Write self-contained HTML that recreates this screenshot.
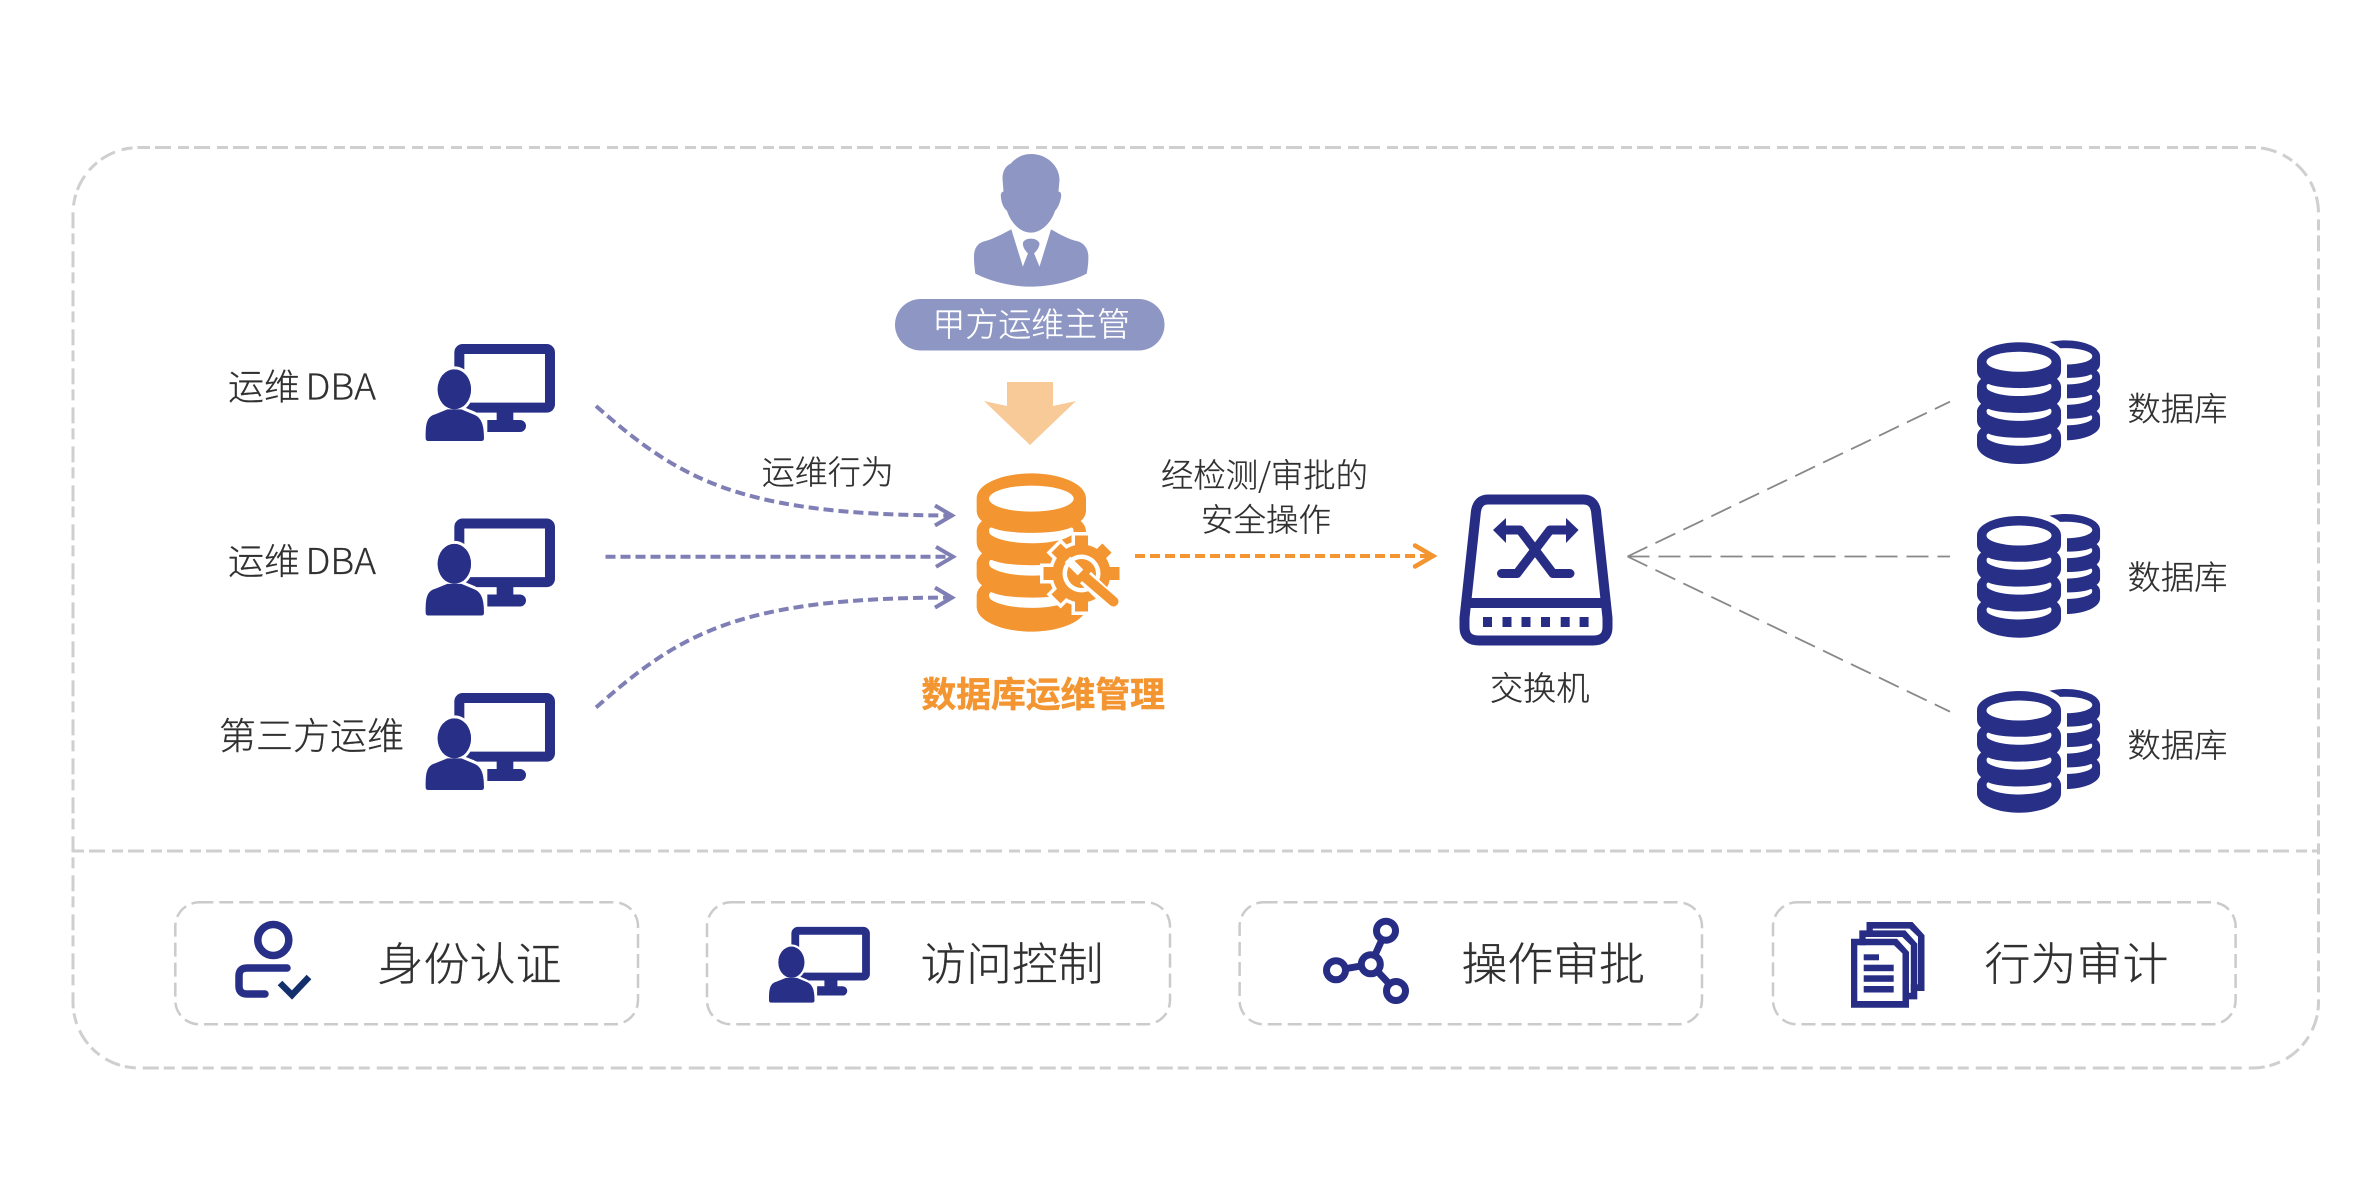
<!DOCTYPE html>
<html><head><meta charset="utf-8"><style>
html,body{margin:0;padding:0;background:#fff}
svg{display:block}
text{font-family:"Noto Sans CJK SC","Liberation Sans",sans-serif;fill:#303030;font-weight:300;stroke:#303030;stroke-width:.3}
</style></head><body>
<svg width="2375" height="1194" viewBox="0 0 2375 1194" xmlns="http://www.w3.org/2000/svg">
<defs>
<g id="mon">
<path fill-rule="evenodd" fill="#272f87" d="M158,42H410a25,25 0 0 1 25,25V223a25,25 0 0 1 -25,25H158a25,25 0 0 1 -25,-25V67a25,25 0 0 1 25,-25ZM163,72V218H405V72Z"/>
<rect x="260" y="245" width="50" height="30" fill="#272f87"/>
<path fill="#272f87" d="M232,270H330a18,18 0 0 1 0,36H232Z"/>
<ellipse cx="133" cy="178" rx="50" ry="60" fill="#272f87" stroke="#fff" stroke-width="18" paint-order="stroke"/>
<path id="mb" fill="#272f87" stroke="#fff" stroke-width="18" paint-order="stroke" d="M47,325C47,290 47,260 75,253L112,238H154L190,253C215,262 222,285 222,325Q222,333 214,333H55Q47,333 47,325Z"/>
<ellipse cx="133" cy="178" rx="50" ry="60" fill="#272f87"/>
</g>
<path id="dbbody" d="M50,115C50,70 130,40 214,40C298,40 378,70 378,115L378,150C378,165 372,175 362,183C372,192 378,202 378,215L378,245C378,260 372,270 362,280C372,290 378,300 378,310L378,345C378,358 372,368 362,376C372,385 378,395 378,408L378,440C378,485 298,515 214,515C130,515 50,485 50,440L50,408C50,395 56,385 66,376C56,368 50,358 50,345L50,310C50,300 56,290 66,280C56,270 50,260 50,245L50,215C50,202 56,192 66,183C56,175 50,165 50,150Z"/>
<g id="dbholes" fill="#fff">
<ellipse cx="214" cy="116" rx="127" ry="39"/>
<path id="cr" d="M96,203C140,224 290,224 332,203C342,199 344,218 335,225C290,258 140,258 93,225C84,218 86,200 96,203Z"/>
<path d="M96,300C140,321 290,321 332,300C342,296 344,315 335,322C290,355 140,355 93,322C84,315 86,297 96,300Z"/>
<path d="M96,397C140,418 290,418 332,397C342,393 344,412 335,419C290,452 140,452 93,419C84,412 86,394 96,397Z"/>
</g>
<g id="navydb">
<g transform="translate(43.5,-10.4) scale(.2105)" fill="#272f87"><use href="#dbbody"/><use href="#dbholes"/></g>
<rect x="84" y="20" width="6" height="82" fill="#fff"/>
<g transform="scale(.2562) translate(-50,-40)">
<use href="#dbbody" fill="#272f87" stroke="#fff" stroke-width="44" paint-order="stroke"/>
<use href="#dbholes"/>
</g>
</g>
<g id="gear">
<circle r="29"/>
<rect x="-6.5" y="-38" width="13" height="76"/>
<rect x="-6.5" y="-36" width="13" height="72" transform="rotate(45)"/>
<rect x="-6.5" y="-38" width="13" height="76" transform="rotate(90)"/>
<rect x="-6.5" y="-36" width="13" height="72" transform="rotate(135)"/>
</g>
<path id="page" d="M1851,938.700H1897L1909,952V1007.700H1851ZM1857.300,945.300V1001H1902.500V953.500L1894,945.300Z" fill-rule="evenodd"/>
<path id="pagew" d="M1857.300,945.300V1001H1902.500V953.500L1894,945.300Z"/>
</defs>

<!-- outer frame -->
<g fill="none" stroke="#cfcfcf" stroke-width="3" stroke-dasharray="11 5 16 7">
<rect x="73" y="147.5" width="2245.5" height="920.5" rx="66" ry="66"/>
<line x1="73" y1="851" x2="2318" y2="851"/>
</g>

<!-- left monitors -->
<use href="#mon" transform="translate(410,330) scale(.3333)"/>
<use href="#mon" transform="translate(410,504.5) scale(.3333)"/>
<use href="#mon" transform="translate(410,679) scale(.3333)"/>
<text x="228" y="399.3" font-size="36" textLength="72" lengthAdjust="spacingAndGlyphs">运维</text>
<text x="305.500" y="399.3" font-size="36" textLength="70.500" lengthAdjust="spacingAndGlyphs">DBA</text>
<text x="228" y="573.8" font-size="36" textLength="72" lengthAdjust="spacingAndGlyphs">运维</text>
<text x="305.500" y="573.8" font-size="36" textLength="70.500" lengthAdjust="spacingAndGlyphs">DBA</text>
<text x="219" y="749" font-size="37" textLength="185" lengthAdjust="spacingAndGlyphs">第三方运维</text>

<!-- purple arrows -->
<g fill="none" stroke="#7f7fb6" stroke-width="4">
<g stroke-dasharray="10 5">
<path d="M596,406C680,480 740,515 950,515.5"/>
<path d="M605.5,556.8H950"/>
<path d="M596,707.5C680,633 740,597.6 950,597.6"/>
</g>
<path d="M935,505.5L952,515.5L935,525.5"/>
<path d="M936,546.8L953,556.8L936,566.8"/>
<path d="M935,587.6L952,597.6L935,607.6"/>
</g>
<text x="761.7" y="484" font-size="33" textLength="132" lengthAdjust="spacingAndGlyphs">运维行为</text>

<!-- manager -->
<g fill="#8e97c3" transform="translate(939,140) scale(.3395,.3333)">
<path d="M213,268C180,285 160,297 130,305C110,312 103,330 103,350C103,370 105,385 107,401C160,428 220,440 271,440C320,440 385,428 435,401C438,385 440,370 440,350C440,330 430,312 412,305C380,297 360,285 330,268L296,380L280,340C290,330 296,320 296,310C290,291 250,291 247,310C247,320 252,330 262,340L247,380Z"/>
<path d="M271,42C320,42 355,80 355,120L352,155C358,155 360,160 360,168C358,185 350,205 342,212C330,250 300,278 271,278C240,278 212,250 200,212C190,205 182,185 182,165C183,158 186,155 190,155L187,115C187,95 195,78 212,70C230,50 250,42 271,42Z"/>
</g>
<rect x="895" y="299" width="269.500" height="51.500" rx="25.700" fill="#8e97c3"/>
<text x="932.5" y="336" font-size="33" textLength="197.500" lengthAdjust="spacingAndGlyphs" style="fill:#fff;stroke:#fff">甲方运维主管</text>
<path fill="#f8ca98" d="M1007,382H1053V406L1076,401L1030,445L984,401L1007,406Z"/>

<!-- orange db -->
<g transform="translate(960,460) scale(.3333)">
<use href="#dbbody" fill="#f39530"/>
<use href="#dbholes"/>
</g>
<g transform="translate(1081.5,573.5)">
<use href="#gear" fill="#fff" stroke="#fff" stroke-width="7"/>
<use href="#gear" fill="#f39530"/>
<circle r="19" fill="#fff"/>
<circle r="14.500" fill="#f39530"/>
<path d="M-14,-14L-1,-1" stroke="#fff" stroke-width="8" fill="none"/>
<path d="M4,4L32,31" stroke="#fff" stroke-width="16" fill="none"/>
<path d="M4,4L32,28" stroke="#f39530" stroke-width="10" stroke-linecap="round" fill="none"/>
</g>
<text x="921.400" y="707" font-size="35" textLength="243.600" lengthAdjust="spacingAndGlyphs" style="fill:#f39530;font-weight:700;stroke:#f39530;stroke-width:.5">数据库运维管理</text>

<!-- orange arrow -->
<g fill="none" stroke="#f39530" stroke-width="4">
<path d="M1135,556H1431" stroke-dasharray="10 5"/>
<path d="M1415,545.500L1433,556L1415,566.500" stroke-linecap="round" stroke-width="4.500"/>
</g>
<text x="1161" y="487" font-size="33" textLength="207" lengthAdjust="spacingAndGlyphs">经检测/审批的</text>
<text x="1201" y="531" font-size="32" textLength="130" lengthAdjust="spacingAndGlyphs">安全操作</text>

<!-- switch -->
<g fill="none" stroke="#272d84" stroke-width="10" stroke-linejoin="round">
<path d="M1488,499.500H1583Q1594,499.500 1596,511L1607.500,618V627Q1607.500,640.500 1593,640.500H1479Q1464.500,640.500 1464.500,627V618L1476,511Q1478,499.500 1488,499.500Z"/>
<path d="M1464.500,603H1607.500"/>
</g>
<g fill="#272d84">
<rect x="1483" y="617" width="9" height="10"/><rect x="1502.500" y="617" width="9" height="10"/><rect x="1521.500" y="617" width="9" height="10"/><rect x="1541" y="617" width="9" height="10"/><rect x="1560.700" y="617" width="9" height="10"/><rect x="1579.600" y="617" width="9" height="10"/>
<path d="M1493,530L1506,518V543Z"/><path d="M1578.600,530L1566,518V543Z"/>
</g>
<g fill="none" stroke="#272d84" stroke-width="9" stroke-linecap="round" stroke-linejoin="round">
<path d="M1501.500,573.500H1517L1550,530H1568"/>
<path d="M1570,573.500H1553L1520,530H1503"/>
</g>
<text x="1490" y="700" font-size="33" textLength="99.500" lengthAdjust="spacingAndGlyphs">交换机</text>

<!-- gray lines -->
<g fill="none" stroke="#888" stroke-width="1.800" stroke-dasharray="22 9">
<path d="M1627.500,556.500L1950,401.700"/>
<path d="M1627.500,556.500H1950"/>
<path d="M1627.500,556.500L1950,711.700"/>
</g>

<!-- right dbs -->
<use href="#navydb" transform="translate(1977,342.300)"/>
<use href="#navydb" transform="translate(1977,516)"/>
<use href="#navydb" transform="translate(1977,691)"/>
<text x="2127.500" y="420.500" font-size="33" textLength="100" lengthAdjust="spacingAndGlyphs">数据库</text>
<text x="2127.500" y="589" font-size="33" textLength="100" lengthAdjust="spacingAndGlyphs">数据库</text>
<text x="2127.500" y="757" font-size="33" textLength="100" lengthAdjust="spacingAndGlyphs">数据库</text>

<!-- bottom boxes -->
<g fill="none" stroke="#cbcbcb" stroke-width="2.500" stroke-dasharray="14 6">
<rect x="175.300" y="902.300" width="462.700" height="122" rx="24"/>
<rect x="707" y="902.300" width="463" height="122" rx="24"/>
<rect x="1239.600" y="902.300" width="462.400" height="122" rx="24"/>
<rect x="1773" y="902.300" width="462.600" height="122" rx="24"/>
</g>
<!-- id icon -->
<circle cx="273.300" cy="940" r="15.500" fill="none" stroke="#272f87" stroke-width="7.500"/>
<path d="M287,968H247Q239,968 239,976V986Q239,994 247,994H265" fill="none" stroke="#272f87" stroke-width="7.500" stroke-linecap="round"/>
<path d="M280,983L292,995L309,977" fill="none" stroke="#14306c" stroke-width="6.500"/>
<use href="#mon" transform="translate(756.800,916) scale(.26)"/>
<!-- network -->
<g stroke="#272d84" fill="#fff">
<path d="M1336,970.300L1370.800,964.300L1386,930.700M1370.800,964.300L1396,991" fill="none" stroke-width="7"/>
<g stroke-width="7">
<circle cx="1370.800" cy="964.300" r="9.500"/>
<circle cx="1386" cy="930.700" r="9.500"/>
<circle cx="1336" cy="970.300" r="9.500"/>
<circle cx="1396" cy="991" r="9.500"/>
</g>
</g>
<!-- docs -->
<g fill="#272d84">
<g transform="translate(15.500,-16.700)"><use href="#pagew" fill="#fff"/><use href="#page"/></g>
<g transform="translate(8.300,-8.300)"><use href="#pagew" fill="#fff"/><use href="#page"/></g>
<use href="#pagew" fill="#fff"/><use href="#page"/>
<rect x="1863.700" y="954.300" width="15.300" height="6"/>
<rect x="1863.700" y="964.700" width="30" height="6.500"/>
<rect x="1863.700" y="975.300" width="30" height="6.500"/>
<rect x="1863.700" y="986" width="30" height="6.500"/>
</g>
<text x="377.500" y="980" font-size="45" textLength="184" lengthAdjust="spacingAndGlyphs">身份认证</text>
<text x="920.500" y="980" font-size="45" textLength="183" lengthAdjust="spacingAndGlyphs">访问控制</text>
<text x="1461.500" y="980" font-size="45" textLength="183.500" lengthAdjust="spacingAndGlyphs">操作审批</text>
<text x="1984.500" y="980" font-size="45" textLength="184" lengthAdjust="spacingAndGlyphs">行为审计</text>
</svg>
</body></html>
